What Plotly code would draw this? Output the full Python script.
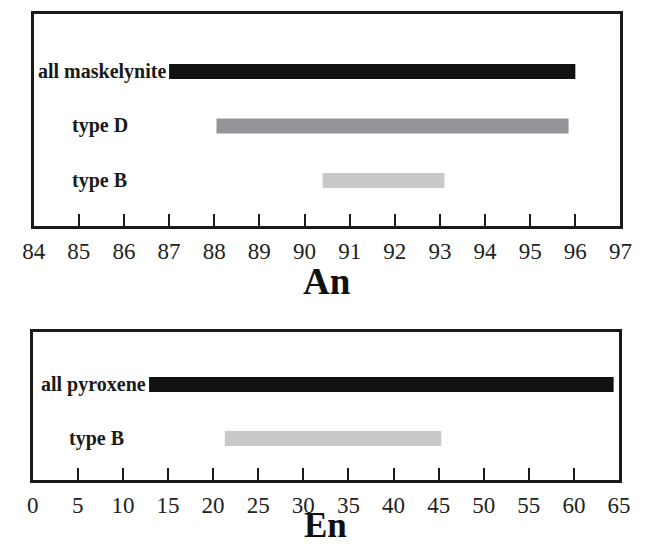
import plotly.graph_objects as go

# Top panel data (An)
an_labels = ["all maskelynite", "type D", "type B"]
an_start = [87.0, 88.05, 90.4]
an_end = [96.0, 95.85, 93.1]
an_pos = [3, 2, 1]
an_colors = ["#111111", "#939598", "#c8c9cb"]
an_ticks = list(range(84, 98))

# Bottom panel data (En)
en_labels = ["all pyroxene", "type B"]
en_start = [12.9, 21.3]
en_end = [64.4, 45.3]
en_pos = [2, 1]
en_colors = ["#111111", "#c8c9cb"]
en_ticks = list(range(0, 70, 5))

W, H = 645, 547
fig = go.Figure()

for s, e, p, c in zip(an_start, an_end, an_pos, an_colors):
    fig.add_trace(go.Bar(orientation="h", base=[s], x=[e - s], y=[p], width=0.275,
                         marker=dict(color=c, line=dict(width=0)), xaxis="x", yaxis="y",
                         showlegend=False, hoverinfo="skip"))
for s, e, p, c in zip(en_start, en_end, en_pos, en_colors):
    fig.add_trace(go.Bar(orientation="h", base=[s], x=[e - s], y=[p], width=0.278,
                         marker=dict(color=c, line=dict(width=0)), xaxis="x2", yaxis="y2",
                         showlegend=False, hoverinfo="skip"))

serif = "Liberation Serif, Times New Roman, serif"
axcommon = dict(showline=True, linewidth=3, linecolor="#1a1a1a", mirror=True,
                showgrid=False, zeroline=False, ticks="inside", ticklen=12, tickwidth=2,
                tickcolor="#1a1a1a", tickfont=dict(family=serif, size=23, color="#222"))
ycommon = dict(showline=True, linewidth=3, linecolor="#1a1a1a", mirror=True, showgrid=False,
               zeroline=False, showticklabels=False, ticks="")

fig.update_layout(
    width=W, height=H, margin=dict(l=0, r=0, t=0, b=0),
    paper_bgcolor="white", plot_bgcolor="white", barmode="overlay",
    xaxis=dict(domain=[22.5 / W, 632 / W], range=[84, 97], tickvals=an_ticks,
               anchor="y", ticklabelstandoff=2, **axcommon),
    yaxis=dict(domain=[1 - 226 / H, 1 - 14 / H], range=[0.165, 4.055], anchor="x", **ycommon),
    xaxis2=dict(domain=[21.5 / W, 630.5 / W], range=[0, 65], tickvals=en_ticks,
                anchor="y2", ticklabelstandoff=2, **axcommon),
    yaxis2=dict(domain=[1 - 480 / H, 1 - 332 / H], range=[0.231, 2.972], anchor="x2", **ycommon),
)

lab_font = dict(family=serif, size=20, color="#1a1a1a")
anns = []
anns.append(dict(x=an_start[0], y=an_pos[0], xref="x", yref="y", text="<b>" + an_labels[0] + "</b>",
                 showarrow=False, xanchor="right", yanchor="middle", xshift=-1, font=lab_font))
for lab, p, xc in zip(an_labels[1:], an_pos[1:], [85.47, 85.45]):
    anns.append(dict(x=xc, y=p, xref="x", yref="y", text="<b>" + lab + "</b>",
                     showarrow=False, xanchor="center", yanchor="middle", font=lab_font))
anns.append(dict(x=en_start[0], y=en_pos[0], xref="x2", yref="y2", text="<b>" + en_labels[0] + "</b>",
                 showarrow=False, xanchor="right", yanchor="middle", xshift=-1, font=lab_font))
anns.append(dict(x=7.1, y=en_pos[1], xref="x2", yref="y2", text="<b>" + en_labels[1] + "</b>",
                 showarrow=False, xanchor="center", yanchor="middle", font=lab_font))
anns.append(dict(x=327 / W, y=1 - 281 / H, xref="paper", yref="paper", text="<b>An</b>",
                 showarrow=False, xanchor="center", yanchor="middle",
                 font=dict(family=serif, size=37, color="#111")))
anns.append(dict(x=326 / W, y=1 - 547 / H, xref="paper", yref="paper", text="<b>En</b>",
                 showarrow=False, xanchor="center", yanchor="bottom",
                 font=dict(family=serif, size=35, color="#111")))
fig.update_layout(annotations=anns)

fig.write_html("out.html")
